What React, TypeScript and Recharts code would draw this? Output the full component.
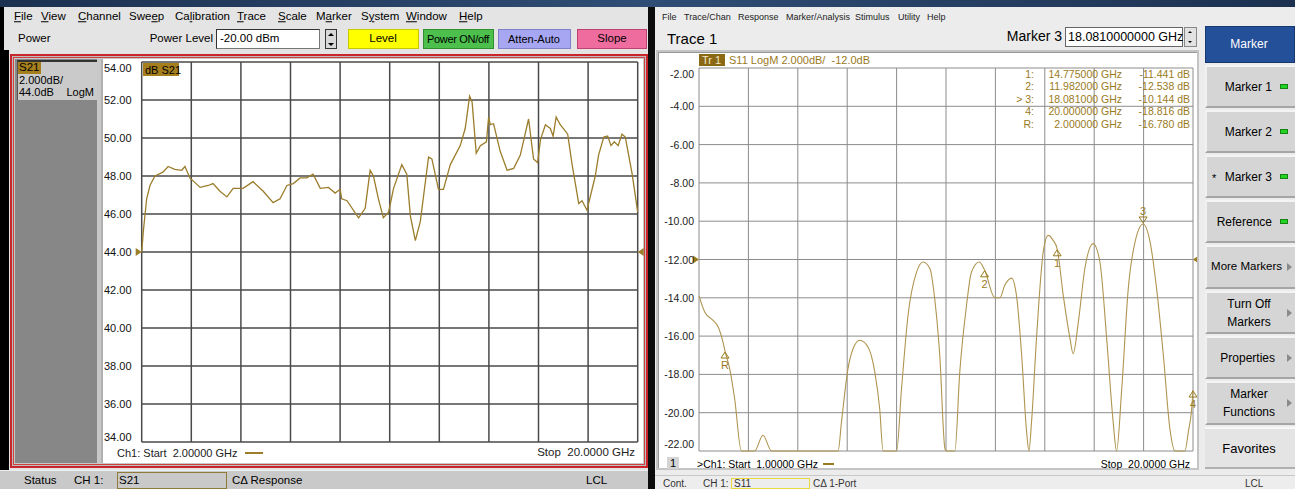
import { CartesianGrid, Line, LineChart, ReferenceDot, XAxis, YAxis } from 'recharts'

// S21 trace (left analyzer), GHz / dB
const S21_FREQ = [
  2.0, 2.06, 2.18, 2.3, 2.48, 2.77, 2.96, 3.2, 3.45, 3.57, 3.75, 4.12, 4.41, 4.59, 4.84, 5.09, 5.32, 5.68,
  6.04, 6.41, 6.77, 7.02, 7.27, 7.5, 7.75, 7.99, 8.22, 8.48, 8.78, 9.02, 9.2, 9.26, 9.45, 9.87, 10.11,
  10.29, 10.41, 10.59, 10.77, 10.96, 11.14, 11.44, 11.62, 11.75, 11.93, 12.11, 12.41, 12.53, 12.77, 12.95,
  13.2, 13.56, 13.74, 13.9, 13.99, 14.14, 14.29, 14.51, 14.59, 14.65, 14.77, 15.01, 15.26, 15.5, 15.74,
  16.04, 16.22, 16.37, 16.47, 16.65, 16.83, 16.93, 17.04, 17.19, 17.46, 17.62, 17.86, 17.98, 18.16, 18.46,
  18.58, 18.77, 18.91, 19.03, 19.15, 19.29, 19.43, 19.55, 19.8, 20.0,
]
const S21_DB = [
  44.0, 45.1, 46.8, 47.5, 48.0, 48.2, 48.5, 48.35, 48.3, 48.5, 47.9, 47.4, 47.5, 47.6, 47.2, 46.9, 47.35, 47.35,
  47.7, 47.2, 46.6, 46.8, 47.5, 47.6, 47.9, 47.9, 48.1, 47.35, 47.4, 47.1, 47.3, 46.8, 46.7, 45.8, 46.3,
  48.3, 48.0, 46.8, 45.8, 46.1, 47.35, 48.6, 48.1, 45.9, 44.6, 45.6, 49.0, 48.9, 47.3, 47.3,
  48.6, 49.6, 50.5, 52.2, 51.9, 49.2, 49.6, 49.8, 51.1, 50.7, 50.75, 49.3, 48.3, 48.4, 49.1,
  51.0, 48.9, 48.7, 49.9, 50.7, 50.5, 50.1, 51.1, 50.7, 50.2, 48.6, 46.55, 46.7, 46.2, 48.0,
  49.1, 50.05, 50.1, 49.6, 49.8, 49.6, 50.2, 50.05, 48.1, 46.1,
]
const S21_Y_TICKS = [34, 36, 38, 40, 42, 44, 46, 48, 50, 52, 54]
const S21_X_TICKS = [2, 3.8, 5.6, 7.4, 9.2, 11, 12.8, 14.6, 16.4, 18.2, 20]

// S11 trace (right analyzer), values below -22 dB sit on the bottom edge
const S11_FREQ = [
  1.0, 1.22, 1.54, 1.73, 1.92, 2.0, 2.18, 2.37, 2.63, 3.14, 3.46, 3.79, 6.35, 6.48, 6.73, 6.93, 7.18, 7.5,
  7.76, 7.95, 8.08, 8.6, 8.79, 9.04, 9.37, 9.62, 9.88, 10.07, 10.26, 10.46, 10.52, 10.84, 11.03, 11.29,
  11.48, 11.78, 11.982, 12.38, 12.57, 12.76, 13.02, 13.21, 13.41, 13.6, 13.69, 13.79, 13.98, 14.24, 14.43,
  14.62, 14.775, 15.01, 15.27, 15.39, 15.59, 15.84, 16.16, 16.42, 16.68, 16.93, 17.06, 17.26, 17.51, 17.77,
  18.081, 18.35, 18.6, 18.86, 19.11, 19.31, 19.69, 19.82, 19.95, 20.0,
]
const S11_DB = [
  -13.9, -14.74, -15.18, -15.5, -16.3, -16.78, -17.7, -19.26, -22, -22, -21.18, -22, -22, -20.49, -17.7, -16.65, -16.22, -16.57,
  -17.87, -19.79, -22, -22, -18.74, -14.91, -12.65, -12.13, -12.47, -14.1, -17.0, -21.88, -22, -22, -17.87, -14.39,
  -12.65, -12.13, -12.54, -14.0, -14.0, -13.35, -12.97, -13.87, -17.0, -21.0, -22, -20.49, -16.13, -11.6, -10.74,
  -11.0, -11.44, -13.87, -16.13, -16.92, -15.27, -12.47, -11.17, -12.13, -16.13, -20.49, -22, -18.74, -13.52, -11.09,
  -10.144, -11.09, -13.52, -17.0, -20.83, -22, -22, -21.0, -19.79, -18.816,
]
const S11_Y_TICKS = [-22, -20, -18, -16, -14, -12, -10, -8, -6, -4, -2]
const S11_X_TICKS = [1, 2.9, 4.8, 6.7, 8.6, 10.5, 12.4, 14.3, 16.2, 18.1, 20]

// markers on the S11 trace
const MARKER_NAMES = ['1', '2', '3', '4', 'R']
const MARKER_FREQ = [14.775, 11.982, 18.081, 20.0, 2.0]
const MARKER_DB = [-11.441, -12.538, -10.144, -18.816, -16.78]
const ACTIVE_MARKER = '3'

const s21Data = S21_FREQ.map((f, i) => ({ f, db: S21_DB[i] }))
const s11Data = S11_FREQ.map((f, i) => ({ f, db: S11_DB[i] }))

const TRACE_L = '#9c7d2c'
const TRACE_R = '#b09550'
const GOLD = '#9a7a1c'

function T({ x, y, children, size = 12, color = '#000', anchor = 'start', font = 'Liberation Sans', style = {} }: any) {
  const tr = anchor === 'end' ? 'translate(-100%,-50%)' : anchor === 'middle' ? 'translate(-50%,-50%)' : 'translateY(-50%)'
  return (
    <div style={{ position: 'absolute', left: x, top: y, transform: tr, fontSize: size, color, fontFamily: font, whiteSpace: 'nowrap', lineHeight: 1, ...style }}>
      {children}
    </div>
  )
}

function Box({ x, y, w, h, bg, style = {}, children }: any) {
  return <div style={{ position: 'absolute', left: x, top: y, width: w, height: h, background: bg, boxSizing: 'border-box', ...style }}>{children}</div>
}

// small spinner arrows drawn with css borders
function Tri({ x, y, dir, size = 3, color = '#000' }: any) {
  const s: any = { position: 'absolute', left: x - size, top: y - size / 2, width: 0, height: 0, borderLeft: `${size}px solid transparent`, borderRight: `${size}px solid transparent` }
  if (dir === 'up') s.borderBottom = `${size}px solid ${color}`
  else s.borderTop = `${size}px solid ${color}`
  return <div style={s} />
}

const leftTick = (props: any) => {
  const { y, payload } = props
  const dy = payload.value === 54 ? 6 : payload.value === 34 ? -5 : 0
  return (
    <text x={3} y={y + dy} dominantBaseline="central" fontSize={11} fontFamily="Liberation Sans" fill="#111">
      {payload.value.toFixed(2)}
    </text>
  )
}

const rightTick = (props: any) => {
  const { y, payload } = props
  const dy = payload.value === -2 ? 6 : payload.value === -22 ? -7 : 0
  return (
    <text x={37} y={y + dy} dominantBaseline="central" textAnchor="end" fontSize={10.5} fontFamily="Liberation Sans" fill="#222">
      {payload.value.toFixed(2)}
    </text>
  )
}

const arrowRight = (color: string) => (p: any) => (
  <polygon points={`${p.cx - 6},${p.cy - 4} ${p.cx},${p.cy} ${p.cx - 6},${p.cy + 4}`} fill={color} />
)
const arrowLeft = (color: string) => (p: any) => (
  <polygon points={`${p.cx + 6},${p.cy - 4} ${p.cx},${p.cy} ${p.cx + 6},${p.cy + 4}`} fill={color} />
)

const markerShape = (name: string) => (p: any) => {
  const { cx, cy } = p
  if (name === ACTIVE_MARKER) {
    return (
      <g>
        <polygon points={`${cx},${cy - 1} ${cx - 4},${cy - 7} ${cx + 4},${cy - 7}`} fill="none" stroke={GOLD} strokeWidth={1} />
        <text x={cx} y={cy - 13} textAnchor="middle" dominantBaseline="central" fontSize={11} fontFamily="Liberation Sans" fill={GOLD}>{name}</text>
      </g>
    )
  }
  return (
    <g>
      <polygon points={`${cx},${cy + 1} ${cx - 4},${cy + 7} ${cx + 4},${cy + 7}`} fill="none" stroke={GOLD} strokeWidth={1} />
      <text x={cx} y={cy + 14} textAnchor="middle" dominantBaseline="central" fontSize={11} fontFamily="Liberation Sans" fill={GOLD}>{name}</text>
    </g>
  )
}

// [label, underlined letter index, x]
const LEFT_MENU = [
  ['File', 0, 14], ['View', 0, 41], ['Channel', 0, 78], ['Sweep', 3, 129], ['Calibration', 2, 175], ['Trace', 0, 237],
  ['Scale', 0, 278], ['Marker', 1, 316], ['System', 1, 361], ['Window', 0, 406], ['Help', 0, 459],
] as const
const RIGHT_MENU = [
  ['File', 662], ['Trace/Chan', 684], ['Response', 738], ['Marker/Analysis', 786], ['Stimulus', 855], ['Utility', 898], ['Help', 927],
] as const

const SIDE_BUTTONS = [
  { label: ['Marker 1'], top: 65, h: 43, led: true },
  { label: ['Marker 2'], top: 110, h: 43, led: true },
  { label: ['Marker 3'], top: 155, h: 43, led: true, star: true },
  { label: ['Reference'], top: 200, h: 43, led: true },
  { label: ['More Markers'], top: 245, h: 44, arrow: true },
  { label: ['Turn Off', 'Markers'], top: 291, h: 43, arrow: true },
  { label: ['Properties'], top: 336, h: 43, arrow: true },
  { label: ['Marker', 'Functions'], top: 381, h: 44, arrow: true },
]

function LeftWindow() {
  return (
    <>
      <Box x={0} y={7} w={648} h={482} bg="#e4e4e4" />
      <Box x={0} y={7} w={4} h={464} bg="#000" />
      <Box x={0} y={50} w={9} h={421} bg="#000" />
      {LEFT_MENU.map(([m, u, x]) => (
        <T key={m} x={x} y={17} size={11.5}>
          {m.slice(0, u)}<span style={{ textDecoration: 'underline' }}>{m[u]}</span>{m.slice(u + 1)}
        </T>
      ))}
      <T x={18} y={39} size={11.5}>Power</T>
      <T x={213} y={39} size={11.5} anchor="end">Power Level</T>
      <Box x={216} y={29} w={104} h={20} bg="#fff" style={{ border: '1px solid #777', borderTopColor: '#333', borderLeftColor: '#333' }} />
      <T x={220} y={39} size={11.5}>-20.00 dBm</T>
      <Box x={325} y={29} w={12} h={20} bg="#d8d8d8" style={{ border: '1px solid #333' }} />
      <Tri x={331} y={34} dir="up" />
      <Tri x={331} y={44} dir="down" />
      <Box x={348} y={29} w={71} h={20} bg="#ffff00" style={{ border: '1px solid #c8c800' }} />
      <T x={383} y={39} size={11.5} anchor="middle">Level</T>
      <Box x={423} y={29} w={71} h={20} bg="#4cbf4c" style={{ border: '1px solid #2f8f2f' }} />
      <T x={458} y={39} size={11} anchor="middle" style={{ letterSpacing: -0.3 }}>Power ON/off</T>
      <Box x={498} y={29} w={73} h={20} bg="#a6a6f2" style={{ border: '1px solid #8080c8' }} />
      <T x={534} y={39} size={11} anchor="middle">Atten-Auto</T>
      <Box x={577} y={29} w={70} h={20} bg="#ef6d9e" style={{ border: '1px solid #c04070' }} />
      <T x={612} y={39} size={11.5} anchor="middle">Slope</T>

      {/* red instrument frame */}
      <Box x={10} y={54} w={638} h={414} bg="#bdbdbd" style={{ border: '2px solid #c8262a' }} />
      <Box x={13} y={57} w={632} h={408} bg="#c8c8c8" style={{ border: '1px solid #d04040' }} />
      <Box x={15} y={59} w={82} h={404} bg="#878787" />
      <Box x={17} y={60} w={80} h={40} bg="#cacaca" style={{ borderTop: '2px solid #333', borderLeft: '1px solid #555' }} />
      <Box x={18} y={62} w={23} h={12} bg="#a57f1e" />
      <T x={19} y={68} size={11.5}>S21</T>
      <T x={19} y={80} size={11}>2.000dB/</T>
      <T x={19} y={92} size={11}>44.0dB</T>
      <T x={94} y={92} size={11} anchor="end">LogM</T>
      <Box x={101} y={59} w={542} h={404} bg="#fff" style={{ borderLeft: '2px solid #b0b0b0' }} />

      <div style={{ position: 'absolute', left: 101, top: 52 }}>
        <LineChart width={545} height={415} data={s21Data} margin={{ top: 10, right: 8.3, bottom: 25, left: 0 }}>
          <CartesianGrid stroke="#4a4a4a" strokeWidth={1.5} />
          <XAxis dataKey="f" type="number" domain={[2, 20]} ticks={S21_X_TICKS} hide />
          <YAxis type="number" domain={[34, 54]} ticks={S21_Y_TICKS} interval={0} width={40.7} axisLine={false} tickLine={false} tick={leftTick} />
          <Line type="linear" dataKey="db" stroke={TRACE_L} strokeWidth={1.3} dot={false} isAnimationActive={false} />
          <ReferenceDot x={2} y={44} r={0} shape={arrowRight(TRACE_L)} />
          <ReferenceDot x={20} y={44} r={0} shape={arrowLeft(TRACE_L)} />
        </LineChart>
      </div>
      <Box x={143} y={63} w={36} h={13} bg="#a57f1e" />
      <T x={145} y={70} size={11}>dB S21</T>
      <T x={117} y={453} size={11} color="#222">Ch1: Start&nbsp; 2.00000 GHz</T>
      <Box x={245} y={452} w={18} h={2} bg={TRACE_L} />
      <T x={635} y={453} size={11.5} anchor="end" color="#222">Stop&nbsp; 20.0000 GHz</T>

      <Box x={0} y={470} w={648} h={19} bg="#c9c9c9" style={{ borderTop: '1px solid #eee' }} />
      <T x={24} y={481} size={11.5}>Status</T>
      <T x={74} y={481} size={11.5}>CH 1:</T>
      <Box x={117} y={472} w={110} h={17} bg="#c9c9c9" style={{ border: '1px solid #8f7a3a' }} />
      <T x={119} y={481} size={11.5}>S21</T>
      <T x={232} y={481} size={11.5}>CΔ Response</T>
      <T x={586} y={481} size={11.5}>LCL</T>
    </>
  )
}

function RightWindow() {
  return (
    <>
      <Box x={648} y={7} w={7} h={482} bg="#0c0c0c" />
      <Box x={655} y={7} w={640} h={482} bg="#ececec" />
      {RIGHT_MENU.map(([m, x]) => (
        <T key={m} x={x} y={17} size={9} color="#222">{m}</T>
      ))}
      <T x={667} y={38} size={15}>Trace 1</T>
      <T x={1062} y={36} size={14} anchor="end">Marker 3</T>
      <Box x={1065} y={27} w={118} h={20} bg="#fff" style={{ border: '1px solid #666' }} />
      <T x={1068} y={37} size={12.5}>18.0810000000 GHz</T>
      <Box x={1184} y={27} w={13} h={20} bg="#e2e2e2" style={{ border: '1px solid #888' }} />
      <Tri x={1190.5} y={32} dir="up" size={2.5} />
      <Tri x={1190.5} y={42} dir="down" size={2.5} />

      <Box x={656} y={50} w={543} h={420} bg="#c4c4c4" />
      <Box x={658} y={52} w={539} h={416} bg="#fff" style={{ borderTop: '1px solid #999', borderLeft: '1px solid #999' }} />
      <div style={{ position: 'absolute', left: 657, top: 52 }}>
        <LineChart width={540} height={416} data={s11Data} margin={{ top: 16, right: 4, bottom: 17, left: 0 }}>
          <CartesianGrid stroke="#8c8c8c" strokeWidth={1} />
          <XAxis dataKey="f" type="number" domain={[1, 20]} ticks={S11_X_TICKS} hide />
          <YAxis type="number" domain={[-22, -2]} ticks={S11_Y_TICKS} interval={0} width={42} axisLine={false} tickLine={false} tick={rightTick} />
          <Line type="monotone" dataKey="db" stroke={TRACE_R} strokeWidth={1.1} dot={false} isAnimationActive={false} />
          <ReferenceDot x={1} y={-12} r={0} shape={arrowRight(GOLD)} />
          <ReferenceDot x={20} y={-12} r={0} shape={arrowLeft(GOLD)} />
          {MARKER_NAMES.map((m, i) => (
            <ReferenceDot key={m} x={MARKER_FREQ[i]} y={MARKER_DB[i]} r={0} shape={markerShape(m)} />
          ))}
        </LineChart>
      </div>
      <Box x={699} y={54} w={26} h={12} bg="#8b6914" />
      <T x={702} y={60} size={11} color="#f2e6c0">Tr 1</T>
      <T x={729} y={60} size={11} color={GOLD}>S11 LogM 2.000dB/&nbsp; -12.0dB</T>
      {MARKER_NAMES.map((m, i) => (
        <div key={m}>
          <T x={1034} y={74 + i * 12.4} size={10.5} color={GOLD} anchor="end">{m === ACTIVE_MARKER ? `> ${m}:` : `${m}:`}</T>
          <T x={1122} y={74 + i * 12.4} size={10.5} color={GOLD} anchor="end">{MARKER_FREQ[i].toFixed(6)} GHz</T>
          <T x={1190} y={74 + i * 12.4} size={10.5} color={GOLD} anchor="end">{MARKER_DB[i].toFixed(3)} dB</T>
        </div>
      ))}
      <Box x={667} y={457} w={12} h={12} bg="#d4d4d4" />
      <T x={673} y={463} size={11} anchor="middle">1</T>
      <T x={697} y={464} size={10.5}>&gt;Ch1: Start&nbsp; 1.00000 GHz</T>
      <Box x={823} y={463} w={11} h={1.5} bg={GOLD} />
      <T x={1190} y={464} size={10.5} anchor="end">Stop&nbsp; 20.0000 GHz</T>

      {/* side softkeys */}
      <Box x={1205} y={26} w={90} h={37} bg="#24509a" style={{ border: '1px solid #16386e' }} />
      <T x={1249} y={44} size={12} color="#fff" anchor="middle">Marker</T>
      {SIDE_BUTTONS.map((b) => (
        <div key={b.label.join(' ')}>
          <Box x={1205} y={b.top} w={90} h={b.h} bg="#d5d5d5" style={{ borderTop: '2px solid #f4f4f4', borderLeft: '2px solid #f0f0f0', borderBottom: '2px solid #a5a5a5' }} />
          {b.label.length === 1 ? (
            <T x={b.arrow ? (b.label[0].length > 10 ? 1282 : 1275) : 1272} y={b.top + b.h / 2} size={b.label[0].length > 10 ? 11.5 : 12} anchor="end">{b.label[0]}</T>
          ) : (
            <>
              <T x={1249} y={b.top + b.h / 2 - 9} size={12} anchor="middle">{b.label[0]}</T>
              <T x={1249} y={b.top + b.h / 2 + 9} size={12} anchor="middle">{b.label[1]}</T>
            </>
          )}
          {b.led && <Box x={1280} y={b.top + b.h / 2 - 3} w={8} h={5} bg="#22d322" style={{ border: '1px solid #148414' }} />}
          {b.star && <T x={1212} y={b.top + b.h / 2 + 1} size={11}>*</T>}
          {b.arrow && <Box x={1287} y={b.top + b.h / 2 - 4} w={0} h={0} bg="transparent" style={{ borderTop: '4px solid transparent', borderBottom: '4px solid transparent', borderLeft: '5px solid #8a8a8a' }} />}
        </div>
      ))}
      <Box x={1205} y={427} w={90} h={42} bg="#e4e4e4" style={{ borderTop: '2px solid #f8f8f8', borderBottom: '2px solid #b0b0b0' }} />
      <T x={1249} y={448} size={13} anchor="middle">Favorites</T>

      <Box x={655} y={475} w={640} h={14} bg="#ededed" style={{ borderTop: '1px solid #c8c8c8' }} />
      <T x={663} y={484} size={10} color="#333">Cont.</T>
      <T x={703} y={484} size={10} color="#333">CH 1:</T>
      <Box x={731} y={478} w={79} h={11} bg="#ededed" style={{ border: '1px solid #e8d840' }} />
      <T x={734} y={484} size={10} color="#333">S11</T>
      <T x={813} y={484} size={10} color="#333">CΔ 1-Port</T>
      <T x={1245} y={484} size={10} color="#333">LCL</T>
    </>
  )
}

export default function App() {
  return (
    <div style={{ position: 'fixed', left: 0, top: 0, width: 1295, height: 489, overflow: 'hidden', background: '#e4e4e4' }}>
      <Box x={0} y={0} w={1295} h={7} bg="linear-gradient(90deg,#1c3150,#2f4d75 50%,#1c3150)" />
      <LeftWindow />
      <RightWindow />
    </div>
  )
}
